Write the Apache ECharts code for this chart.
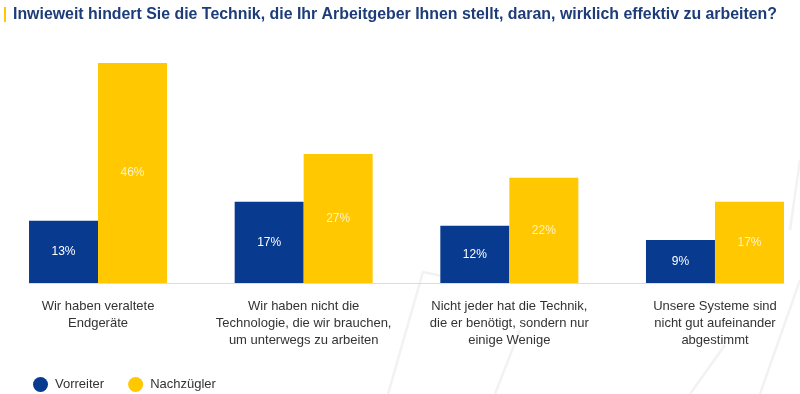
<!DOCTYPE html>
<html>
<head>
<meta charset="utf-8">
<script src="https://cdn.jsdelivr.net/npm/echarts@6/dist/echarts.min.js"></script>
<style>
html,body{margin:0;padding:0;background:#fff;}
#chart{width:800px;height:394px;}
</style>
</head>
<body>
<div id="chart"></div>
<script>
const titleText = 'Inwieweit hindert Sie die Technik, die Ihr Arbeitgeber Ihnen stellt, daran, wirklich effektiv zu arbeiten?';
const categories = [
  'Wir haben veraltete\nEndgeräte',
  'Wir haben nicht die\nTechnologie, die wir brauchen,\num unterwegs zu arbeiten',
  'Nicht jeder hat die Technik,\ndie er benötigt, sondern nur\neinige Wenige',
  'Unsere Systeme sind\nnicht gut aufeinander\nabgestimmt'
];
const seriesNames = ['Vorreiter', 'Nachzügler'];
const vorreiter = [13, 17, 12, 9];
const nachzuegler = [46, 27, 22, 17];

const BLUE = '#083b8f';
const YELLOW = '#ffc800';
const FONT = 'Liberation Sans, Arial, sans-serif';
const TITLE_FONT = 'bold 16px "Liberation Sans", Arial, sans-serif';

// condense the title horizontally to the reference's narrow bold face
const ctx = document.createElement('canvas').getContext('2d');
ctx.font = TITLE_FONT;
const titleScale = Math.min(1, 764 / ctx.measureText(titleText).width);

const chart = echarts.init(document.getElementById('chart'), null, {renderer: 'canvas'});
const faint = {stroke: '#f2f2f2', lineWidth: 2.5, fill: null};
const option = {
  backgroundColor: '#ffffff',
  animation: false,
  graphic: [
    {type: 'rect', left: 4, top: 7, shape: {width: 2, height: 15}, style: {fill: YELLOW}, z: 10},
    {type: 'text', x: 13, y: 15, scaleX: titleScale, z: 10,
      style: {text: titleText, font: TITLE_FONT, fill: '#1d3c78', textVerticalAlign: 'middle', verticalAlign: 'middle'}},
    {type: 'polyline', silent: true, z: -10, shape: {points: [[388, 394], [423, 272], [470, 282]]}, style: faint},
    {type: 'polyline', silent: true, z: -10, shape: {points: [[495, 394], [520, 330]]}, style: faint},
    {type: 'polyline', silent: true, z: -10, shape: {points: [[760, 394], [800, 280]]}, style: faint},
    {type: 'polyline', silent: true, z: -10, shape: {points: [[790, 230], [800, 160]]}, style: faint},
    {type: 'polyline', silent: true, z: -10, shape: {points: [[690, 394], [725, 345]]}, style: faint}
  ],
  legend: {
    left: 28,
    top: 372,
    icon: 'circle',
    itemWidth: 15,
    itemHeight: 15,
    itemGap: 24,
    data: seriesNames,
    textStyle: {fontFamily: FONT, fontSize: 13, color: '#333', padding: [0, 0, 0, 2]}
  },
  grid: [
    {left: -4.8, right: -17.8, top: 44, bottom: 111, containLabel: false, outerBoundsMode: 'none'},
    {left: 29, right: 16, top: 44, bottom: 111, containLabel: false, outerBoundsMode: 'none'}
  ],
  xAxis: [
    {
      type: 'category',
      gridIndex: 0,
      data: categories,
      axisLine: {show: false},
      axisTick: {show: false},
      axisLabel: {interval: 0, fontFamily: FONT, fontSize: 13, color: '#333', lineHeight: 17, margin: 15}
    },
    {
      type: 'category',
      gridIndex: 1,
      data: categories,
      axisLine: {show: true, lineStyle: {color: '#dcdcdc', width: 1}},
      axisTick: {show: false},
      axisLabel: {show: false}
    }
  ],
  yAxis: [
    {type: 'value', gridIndex: 0, min: 0, max: 50, show: false},
    {type: 'value', gridIndex: 1, min: 0, max: 50, show: false}
  ],
  series: [
    {
      name: seriesNames[0],
      type: 'bar',
      xAxisIndex: 0, yAxisIndex: 0,
      data: vorreiter,
      barWidth: 69,
      barGap: '0%',
      itemStyle: {color: BLUE},
      label: {show: true, position: 'inside', formatter: '{c}%', color: '#ffffff', fontFamily: FONT, fontSize: 12}
    },
    {
      name: seriesNames[1],
      type: 'bar',
      xAxisIndex: 0, yAxisIndex: 0,
      data: nachzuegler,
      barWidth: 69,
      barGap: '0%',
      itemStyle: {color: YELLOW},
      label: {show: true, position: 'inside', formatter: '{c}%', color: 'rgba(255,255,255,0.8)', fontFamily: FONT, fontSize: 12}
    }
  ]
};
chart.setOption(option);
</script>
</body>
</html>
